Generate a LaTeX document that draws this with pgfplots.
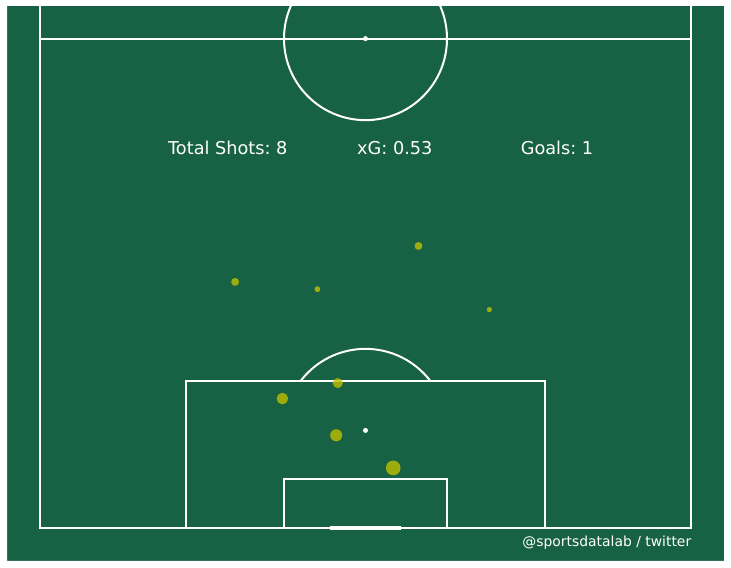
\documentclass[border=0pt]{standalone}
\usepackage{fontspec}
\setmainfont{DejaVu Sans}
\usepackage{pgfplots}
\pgfplotsset{compat=1.18}
\usepackage{pgfplotstable}
\definecolor{pitch}{RGB}{23,97,68}
\definecolor{shot}{RGB}{191,191,0}
% shot locations (pitch units: x across, y = distance from goal line) and xG
\pgfplotstableread{
x y xg
46.5 34.6 0.041
24.0 30.2 0.041
34.1 29.3 0.021
55.2 26.8 0.017
36.6 17.8 0.067
29.8 15.9 0.092
36.4 11.4 0.101
43.4 7.4 0.152
}\shots
\begin{document}
\frenchspacing
\begin{tikzpicture}
\begin{axis}[
  width=717pt, height=555pt, scale only axis,
  xmin=-4, xmax=84, ymin=-4, ymax=64,
  hide axis, clip=true,
]
\fill[pitch] (axis cs:-4,-4) rectangle (axis cs:84,64);
\begin{scope}[white, line width=2pt]
  \draw (axis cs:0,64) -- (axis cs:0,0) -- (axis cs:80,0) -- (axis cs:80,64);
  \draw (axis cs:0,60) -- (axis cs:80,60);
  \draw (axis cs:18,0) rectangle (axis cs:62,18);
  \draw (axis cs:30,0) rectangle (axis cs:50,6);
  \draw (axis cs:40,60) circle[radius=81.5pt];
  \draw (axis cs:48,18) arc[start angle=36.87, end angle=143.13, radius=81.5pt];
  \fill (axis cs:40,60) circle[radius=2.5pt];
  \fill (axis cs:40,12) circle[radius=2.5pt];
  \draw[line width=4pt] (axis cs:35.7,0) -- (axis cs:44.3,0);
\end{scope}
\addplot[only marks, mark=*, scatter, point meta={\thisrow{xg}},
  scatter/use mapped color={draw=shot, fill=shot},
  mark options={opacity=0.8, line width=0.3pt},
  visualization depends on={18.3*sqrt(\thisrow{xg}) \as \rad},
  scatter/@pre marker code/.append style={/tikz/mark size=\rad}]
  table[x=x, y=y] {\shots};
\node[white, anchor=base, font=\fontsize{17.7}{21}\selectfont] at (axis cs:23.1,45.83) {Total Shots: 8};
\node[white, anchor=base, font=\fontsize{17.7}{21}\selectfont] at (axis cs:43.6,45.83) {xG: 0.53};
\node[white, anchor=base, font=\fontsize{17.7}{21}\selectfont] at (axis cs:63.5,45.83) {Goals: 1};
\node[white, anchor=base east, inner sep=0pt, font=\fontsize{13.9}{16}\selectfont] at (axis cs:80,-2.2) {@sportsdatalab / twitter};
\end{axis}
\fill[white, even odd rule]
  ([shift={(-7pt,-7pt)}]current axis.south west) rectangle ([shift={(7pt,6pt)}]current axis.north east)
  (current axis.south west) rectangle (current axis.north east);
\end{tikzpicture}
\end{document}
